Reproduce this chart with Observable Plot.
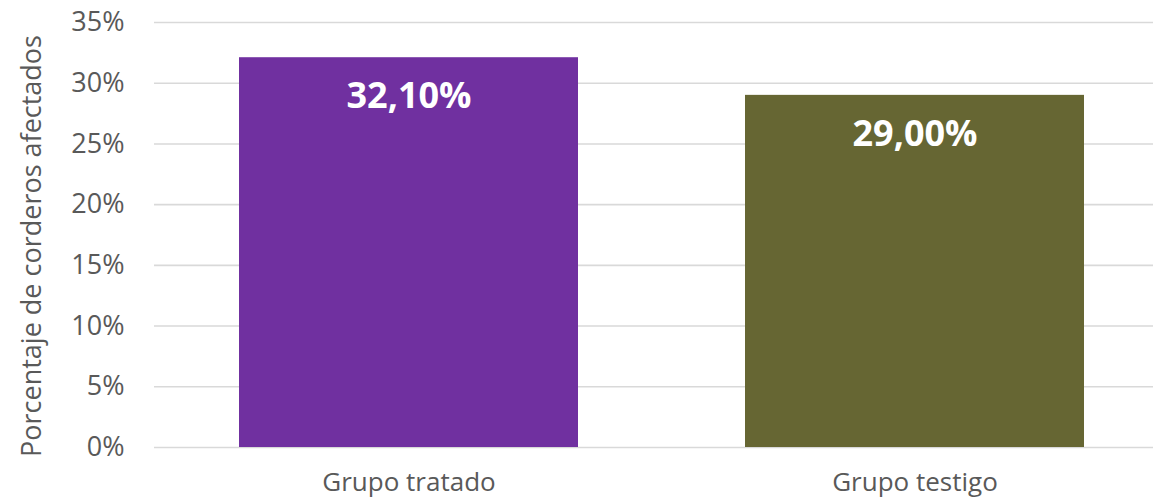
<!DOCTYPE html>
<html>
<head>
<meta charset="utf-8">
<script src="https://cdn.jsdelivr.net/npm/d3@7"></script>
<script src="https://cdn.jsdelivr.net/npm/@observablehq/plot@0.6"></script>
<style>
  html, body { margin: 0; padding: 0; background: #fff; }
  #chart svg { display: block; overflow: visible; }
</style>
</head>
<body>
<div id="chart"></div>
<script>
const categories = ["Grupo tratado", "Grupo testigo"];
const values = [32.1, 29.0];
const colors = ["#7030A0", "#666633"];
const yTicks = [0, 5, 10, 15, 20, 25, 30, 35];
const yTitle = "Porcentaje de corderos afectados";

const data = categories.map((c, i) => ({category: c, value: values[i], color: colors[i]}));
const fmt = v => v.toFixed(2).replace(".", ",") + "%";

const chart = Plot.plot({
  width: 1153,
  height: 499,
  marginLeft: 154,
  marginRight: 0,
  marginTop: 22,
  marginBottom: 52,
  style: {fontFamily: "'Open Sans', sans-serif", background: "#fff", color: "#595959"},
  x: {domain: categories, range: [154, 1169], paddingInner: 0.33, paddingOuter: 0.166, label: null},
  y: {domain: [0, 35], label: null},
  marks: [
    Plot.ruleY(yTicks, {stroke: "#d9d9d9", strokeWidth: 1.6}),
    Plot.barY(data, {x: "category", y: "value", fill: "color"}),
    Plot.text(data, {x: "category", y: "value", text: d => fmt(d.value), fill: "white", fontWeight: "bold", fontSize: 36, dy: 39}),
    Plot.axisY({ticks: yTicks, tickSize: 0, tickPadding: 30, tickFormat: d => d + "%", fontSize: 27, label: null, fill: "#595959"}),
    Plot.axisX({tickSize: 0, tickPadding: 25, fontSize: 26, label: null, fill: "#595959"}),
    Plot.text([yTitle], {frameAnchor: "left", textAnchor: "middle", lineAnchor: "middle", rotate: -90, dx: -122, dy: 11, fontSize: 27, fill: "#595959"})
  ]
});
document.getElementById("chart").appendChild(chart);
</script>
</body>
</html>
